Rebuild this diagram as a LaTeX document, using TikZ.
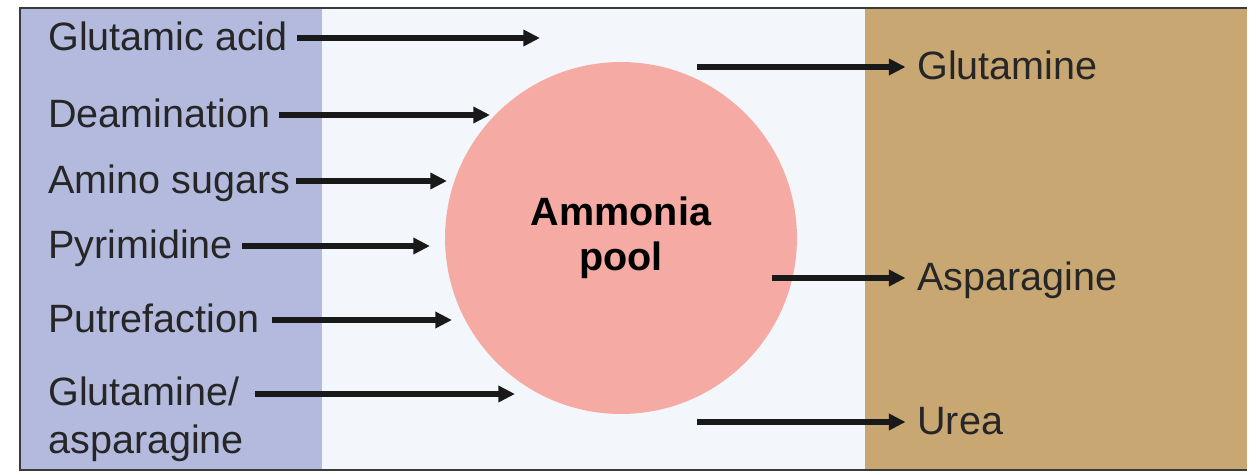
\documentclass[tikz,border=0pt]{standalone}
\usepackage{fontspec}
\setmainfont{Liberation Sans}
\usetikzlibrary{arrows.meta,positioning}
\definecolor{leftbg}{HTML}{B3BADE}
\definecolor{midbg}{HTML}{F3F7FB}
\definecolor{rightbg}{HTML}{C9A773}
\definecolor{poolfill}{HTML}{F5AAA4}
\definecolor{framegray}{HTML}{3A3A3A}

\begin{document}
\begin{tikzpicture}[
    x=0.02cm, y=-0.02cm,
    lbl/.style={inner sep=0pt, font=\fontsize{22.5}{27.5}\selectfont, text=black!85},
    src/.style={lbl, anchor=west, text height=16.2pt, text depth=1.8pt},
    flow/.style={-{Triangle[length=9.5pt, width=9pt]}, line width=3.3pt, black!90}
]
\useasboundingbox (0,0) rectangle (1259,474);

% 背景
\fill[leftbg] (20,8) rectangle (322,470);
\fill[midbg] (322,8) rectangle (865,470);
\fill[rightbg] (865,8) rectangle (1247,470);
\draw[framegray, line width=1.2pt] (1247,8) -- (20,8) -- (20,470) -- (1247,470);

% ammonia pool
\node[circle, fill=poolfill, minimum size=7.04cm, inner sep=0pt, align=center,
      font=\fontsize{22.5}{25.5}\selectfont\bfseries] (pool) at (621,238) {Ammonia\\pool};

% 左側 (入る)
\node[src] (glu) at (48,38) {Glutamic acid};
\node[src] (deam) at (48,115) {Deamination};
\node[src] (amino) at (48,181) {Amino sugars};
\node[src] (pyr) at (48,246) {Pyrimidine};
\node[src] (putr) at (48,320) {Putrefaction};
\node[lbl, anchor=north west, align=left] (glnasn) at (48,376) {Glutamine/\\asparagine};

\coordinate (gluin) at (540,38);
\coordinate (deamin) at (490,115);
\coordinate (aminoin) at (447,181);
\coordinate (pyrin) at (430,246);
\coordinate (putrin) at (452,320);
\coordinate (glnasnin) at (515,394);

\draw[flow, shorten <=5pt] (glu.east) -- (gluin);
\draw[flow, shorten <=5pt] (deam.east) -- (deamin);
\draw[flow, shorten <=3pt] (amino.east) -- (aminoin);
\draw[flow, shorten <=5pt] (pyr.east) -- (pyrin);
\draw[flow, shorten <=7pt] (putr.east) -- (putrin);
\draw[flow, shorten <=6pt] (glnasn.east |- glnasnin) -- (glnasnin);

% 右側 (出る)
\node[src] (gln) at (917,67) {Glutamine};
\node[src] (asn) at (917,278) {Asparagine};
\node[src] (urea) at (917,422) {Urea};

\coordinate (glnout) at (697,67);
\coordinate (asnout) at (772,278);
\coordinate (ureaout) at (697,422);

\draw[flow, shorten >=6.5pt] (glnout) -- (gln.west);
\draw[flow, shorten >=6.5pt] (asnout) -- (asn.west);
\draw[flow, shorten >=6.5pt] (ureaout) -- (urea.west);

\end{tikzpicture}
\end{document}
